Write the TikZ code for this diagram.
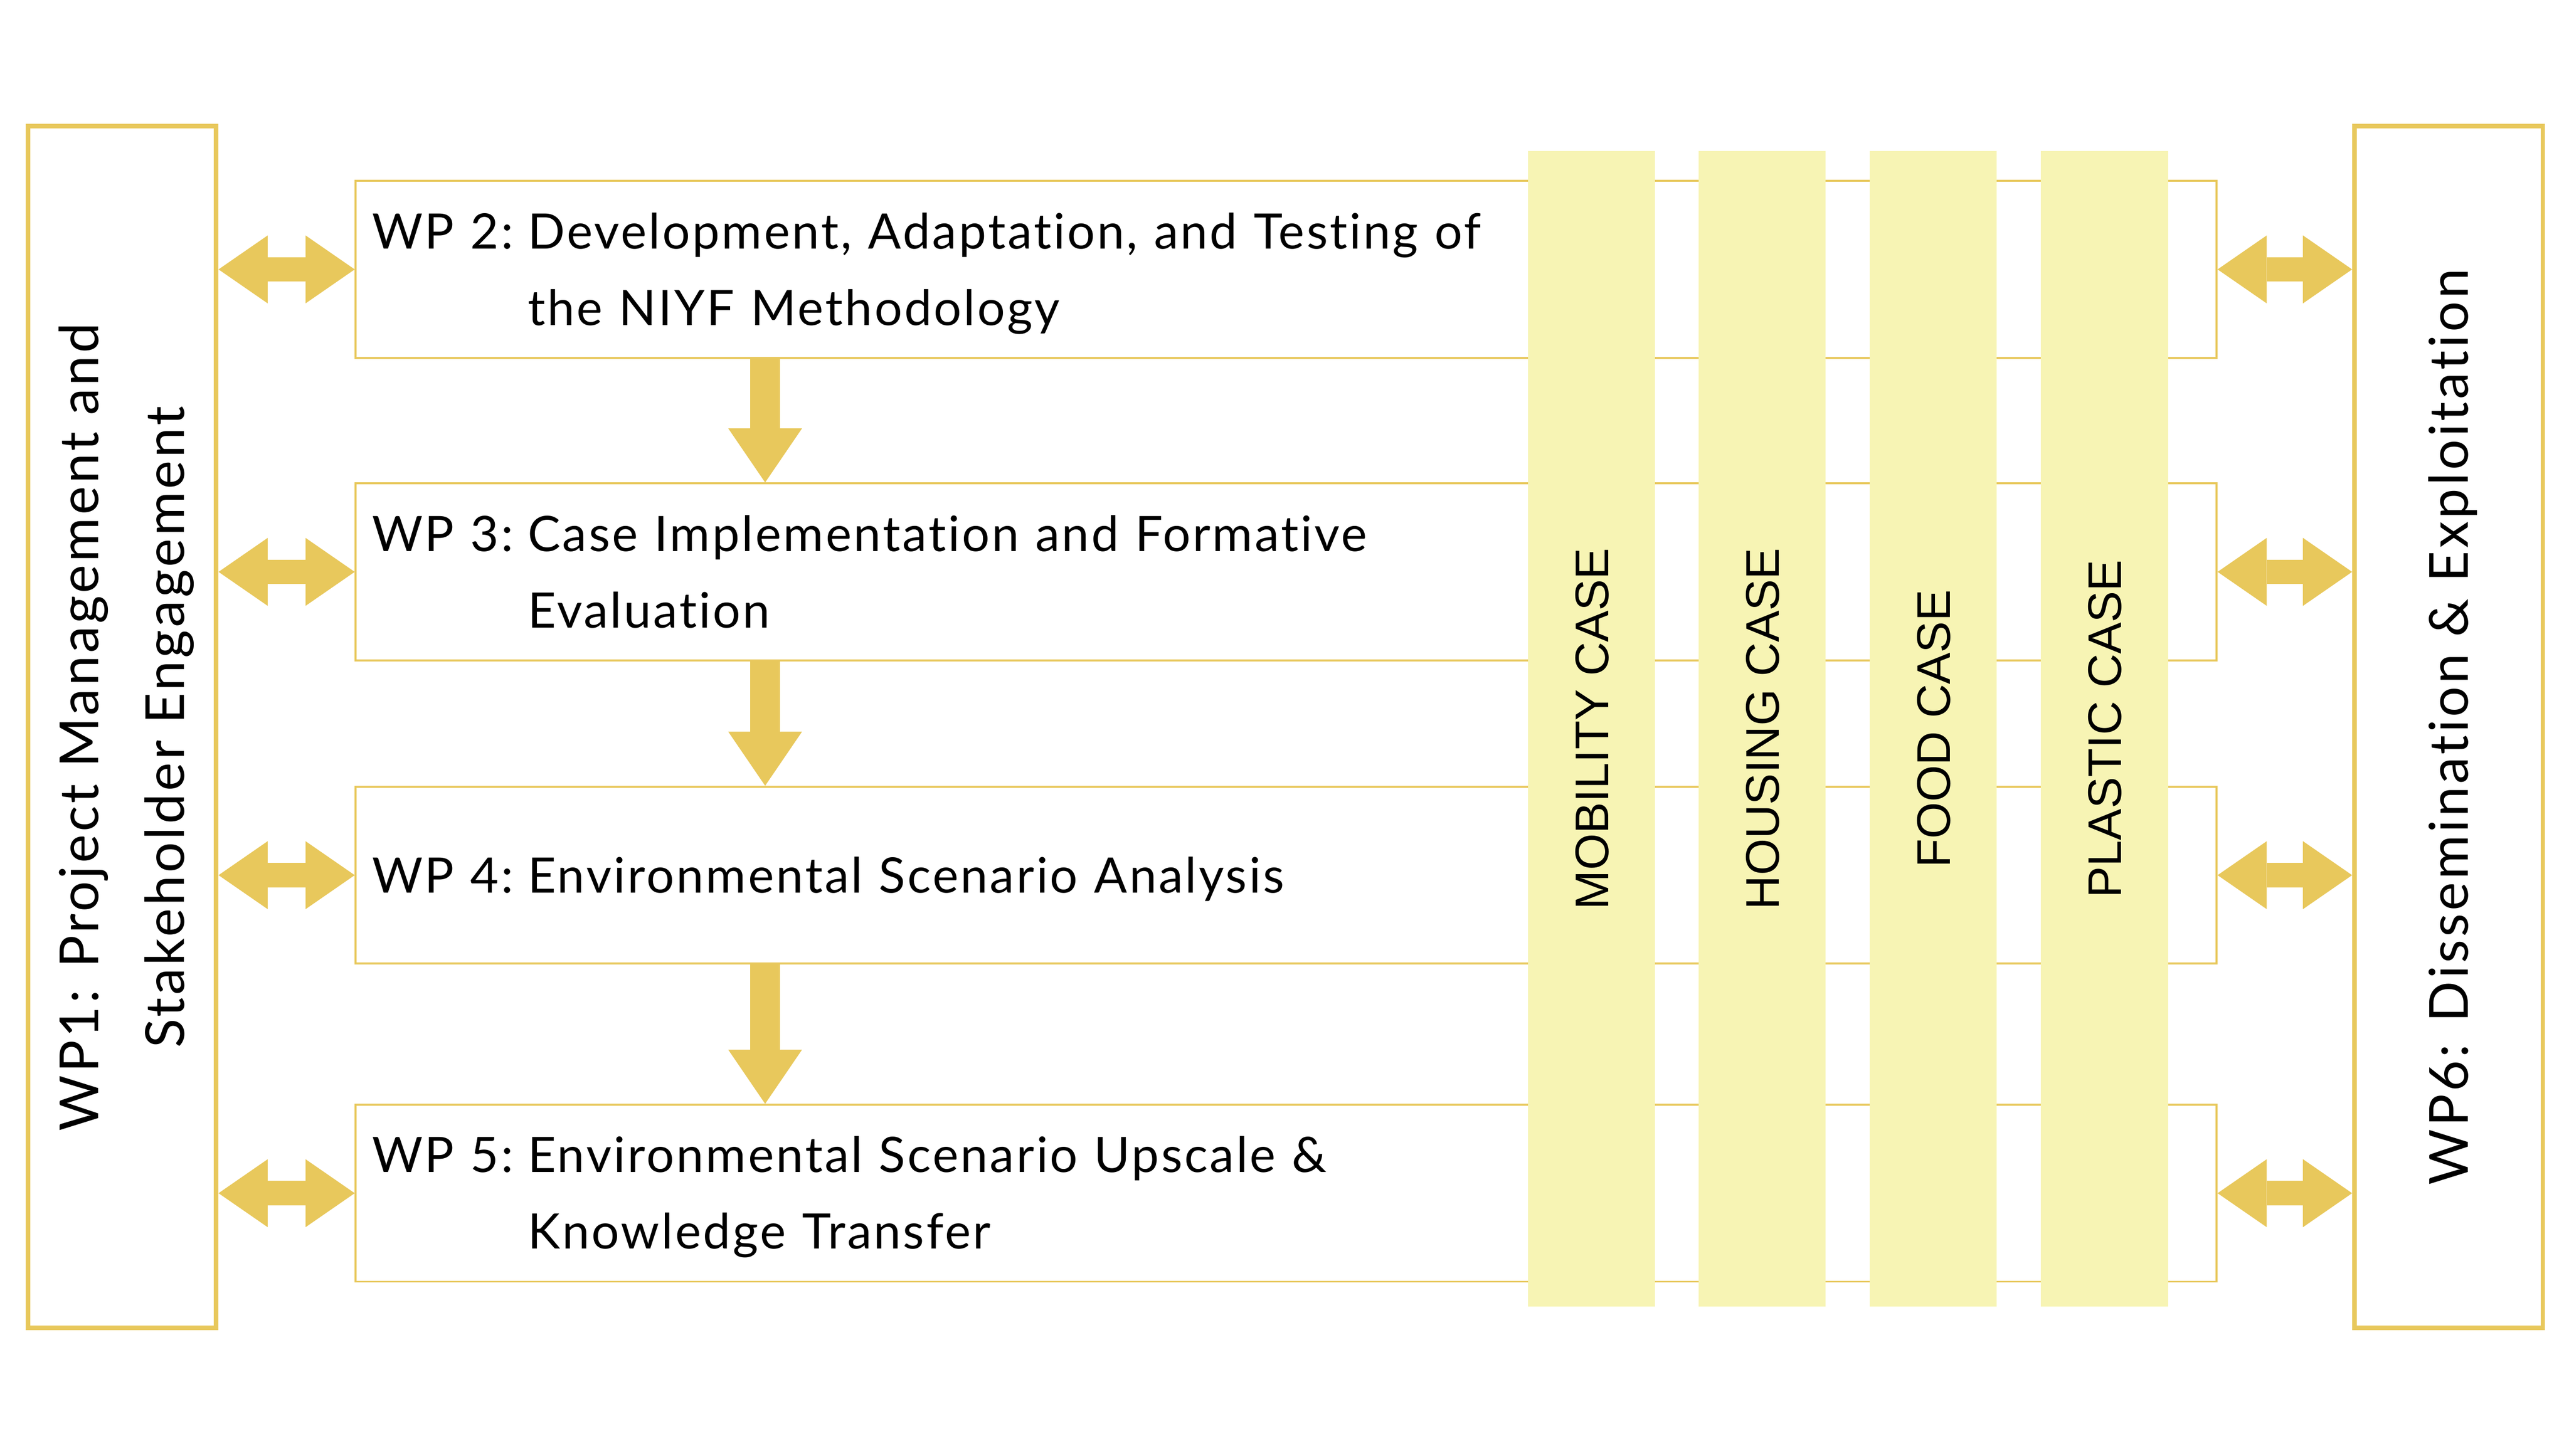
\documentclass[tikz,border=0pt]{standalone}
\usepackage{fontspec}
\usepackage{tikz}
\usetikzlibrary{positioning}
\usetikzlibrary{arrows.meta}

\newfontfamily\latofont{Lato}[LetterSpace=4.3, Ligatures=NoCommon]
\newfontfamily\sidefont{Lato}[LetterSpace=5.2, Ligatures=NoCommon]
\newfontfamily\casefont{Liberation Sans}
\definecolor{wpgold}{HTML}{E8C85C}
\definecolor{caseyellow}{HTML}{F7F4B4}
\newcommand{\wpline}[2]{\makebox[1.9cm][l]{#1}\parbox[t]{20cm}{#2}}

\begin{document}
\begin{tikzpicture}[x=0.02cm, y=-0.02cm,
    wpbox/.style = {draw=wpgold, line width=0.7pt, minimum width=22.72cm, minimum height=2.16cm,
        inner xsep=0.2cm, inner ysep=0pt, text width=22.32cm, align=left,
        font=\latofont\fontsize{17}{26.6}\selectfont, text height=12.2pt, text depth=26.6pt},
    outerbox/.style = {draw=wpgold, line width=1.6pt, rotate=90, minimum width=14.68cm, minimum height=2.3cm,
        align=center, font=\sidefont\fontsize{18.7}{29.8}\selectfont, text height=43.2pt, text depth=0pt},
    casecol/.style = {fill=caseyellow, rotate=90, minimum width=14.12cm, minimum height=1.55cm,
        font=\casefont\fontsize{16.4}{20}\selectfont, text height=11.7pt, text depth=0pt},
    twoway/.style = {wpgold, line width=0.3cm,
        {Triangle[width=0.83cm,length=0.6cm,line width=0pt]}-{Triangle[width=0.83cm,length=0.6cm,line width=0pt]}},
    flowdown/.style = {wpgold, line width=0.36cm, -{Triangle[width=0.9cm,length=0.66cm,line width=0pt]}}]
    \path[use as bounding box, fill=white] (0,0) rectangle (1568,889);
    % Nodes
    \node[outerbox] (wp1) at (74.5,444) {WP1: Project Management and\\Stakeholder Engagement};
    \node[outerbox, text height=13.4pt] (wp6) at (1494.5,444) {WP6: Dissemination \& Exploitation};
    \node[wpbox] (wp2) at (785,164.5) {\wpline{WP 2:}{Development, Adaptation, and Testing of\\the NIYF Methodology}};
    \node[wpbox] (wp3) [below=1.51cm of wp2] {\wpline{WP 3:}{Case Implementation and Formative\\Evaluation}};
    \node[wpbox, text depth=0pt] (wp4) [below=1.52cm of wp3] {\wpline{WP 4:}{Environmental Scenario Analysis}};
    \node[wpbox] (wp5) [below=1.70cm of wp4] {\wpline{WP 5:}{Environmental Scenario Upscale \&\\Knowledge Transfer}};
    \coordinate (spine) at (467,0);
    % Edges
    \draw[twoway] (wp1.south |- wp2.west) -- (wp2.west);
    \draw[twoway] (wp1.south |- wp3.west) -- (wp3.west);
    \draw[twoway] (wp1.south |- wp4.west) -- (wp4.west);
    \draw[twoway] (wp1.south |- wp5.west) -- (wp5.west);
    \draw[twoway] (wp2.east) -- (wp6.north |- wp2.east);
    \draw[twoway] (wp3.east) -- (wp6.north |- wp3.east);
    \draw[twoway] (wp4.east) -- (wp6.north |- wp4.east);
    \draw[twoway] (wp5.east) -- (wp6.north |- wp5.east);
    \draw[flowdown] (spine |- wp2.south) -- (spine |- wp3.north);
    \draw[flowdown] (spine |- wp3.south) -- (spine |- wp4.north);
    \draw[flowdown] (spine |- wp4.south) -- (spine |- wp5.north);
    % Cases
    \node[casecol] (mobility) at (971.5,445) {MOBILITY CASE};
    \node[casecol] (housing) at (1075.5,445) {HOUSING CASE};
    \node[casecol] (food) at (1180,445) {FOOD CASE};
    \node[casecol] (plastic) at (1284.5,445) {PLASTIC CASE};
\end{tikzpicture}
\end{document}
